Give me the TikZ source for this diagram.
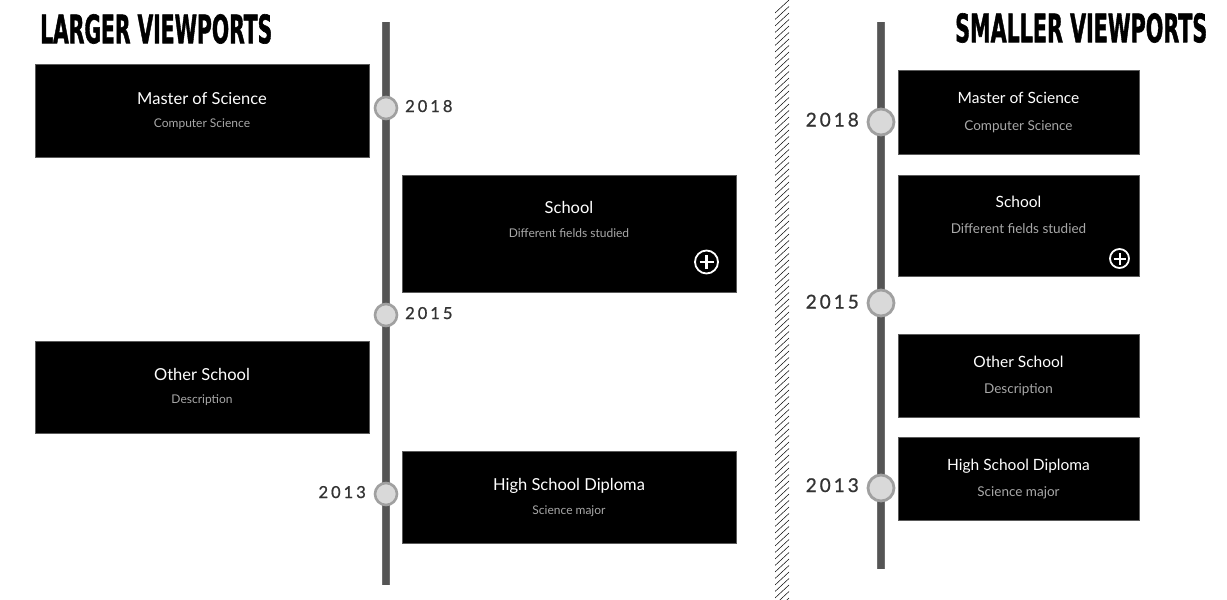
\documentclass[tikz,border=0pt]{standalone}
\usepackage{fontspec}
\setmainfont{Lato}
\newfontfamily\headfont[FakeBold=1.6]{DejaVu Sans Condensed}
\newfontfamily\yearfont[FakeBold=0.9]{Lato}
\definecolor{linegray}{HTML}{555555}
\definecolor{lineedge}{HTML}{6E6E6E}
\definecolor{dotfill}{HTML}{D9D9D9}
\definecolor{dotedge}{HTML}{A0A0A0}
\definecolor{subgray}{HTML}{A8A8A8}
\definecolor{yeargray}{HTML}{333333}
\definecolor{boxedge}{HTML}{5A5A5A}
\newcommand\yrs[4]{#1\kern3pt#2\kern3pt#3\kern3pt#4}
\tikzset{
  card/.style={rectangle, fill=black, draw=boxedge, line width=0.8pt, inner sep=0pt},
  cardL/.style={card, minimum width=334pt},
  cardR/.style={card, minimum width=241pt},
  ttlL/.style={anchor=base, text=white, font=\fontsize{16.5}{18}\selectfont, inner sep=0pt},
  subL/.style={anchor=base, text=subgray, font=\fontsize{12}{14}\selectfont, inner sep=0pt},
  ttlR/.style={anchor=base, text=white, font=\fontsize{15.5}{18}\selectfont, inner sep=0pt},
  subR/.style={anchor=base, text=subgray, font=\fontsize{13.5}{16}\selectfont, inner sep=0pt},
  dotL/.style={circle, fill=dotfill, draw=dotedge, line width=2.6pt, minimum size=22pt, inner sep=0pt},
  dotR/.style={circle, fill=dotfill, draw=dotedge, line width=2.8pt, minimum size=26pt, inner sep=0pt},
  yearL/.style={text=yeargray, font=\yearfont\fontsize{16.5}{18}\selectfont, inner sep=0pt},
  yearR/.style={text=yeargray, font=\yearfont\fontsize{19}{21}\selectfont, inner sep=0pt},
  spine/.style={draw=lineedge, line width=8pt},
  spinein/.style={draw=linegray, line width=6.5pt},
  plusring/.style={circle, draw=white, line width=1.8pt, inner sep=0pt},
  plusbar/.style={draw=white, line width=2.4pt},
}
\begin{document}
\begin{tikzpicture}[x=1pt,y=-1pt]
\useasboundingbox (0,0) rectangle (1227,600);
\fill[white] (0,0) rectangle (1227,600);

% headings
\node[anchor=north west, inner sep=0pt] (hL) at (40,14) {\resizebox{232pt}{29pt}{\headfont\bfseries LARGER VIEWPORTS}};
\node[anchor=north west, inner sep=0pt] (hR) at (955,13) {\resizebox{252pt}{29pt}{\headfont\bfseries SMALLER VIEWPORTS}};

% hatched divider
\begin{scope}
\clip (775,0) rectangle (789,600);
\foreach \i in {0,...,95} {
  \draw[black, line width=0.5pt] (775,6.5*\i+13) -- (789,6.5*\i);
}
\end{scope}

% ---------- left timeline ----------
\coordinate (lt) at (386,22);
\coordinate (lb) at (386,585);
\draw[spine] (lt) -- (lb);
\draw[spinein] (lt) -- (lb);

\node[cardL, minimum height=93pt] (b1) at (202,110.5) {};
\node[ttlL] at ([yshift=-41pt]b1.north) {Master of Science};
\node[subL] at ([yshift=-64pt]b1.north) {Computer Science};

\node[cardL, minimum height=117pt] (b2) at (569,233.5) {};
\node[ttlL] at ([yshift=-39pt]b2.north) {School};
\node[subL] at ([yshift=-63pt]b2.north) {Different fields studied};
\node[plusring, minimum size=23pt] (p1) at (706.5,262) {};
\draw[plusbar] ([xshift=-7pt]p1.center) -- ([xshift=7pt]p1.center);
\draw[plusbar] ([yshift=-7pt]p1.center) -- ([yshift=7pt]p1.center);

\node[cardL, minimum height=92pt] (b3) at (202,387) {};
\node[ttlL] at ([yshift=-40pt]b3.north) {Other School};
\node[subL] at ([yshift=-63pt]b3.north) {Description};

\node[cardL, minimum height=92pt] (b4) at (569,497) {};
\node[ttlL] at ([yshift=-40pt]b4.north) {High School Diploma};
\node[subL] at ([yshift=-64pt]b4.north) {Science major};

\node[dotL] (d1) at (386,108) {};
\node[dotL] (d2) at (386,315) {};
\node[dotL] (d3) at (386,494) {};
\node[yearL, anchor=base west] (y1) at (405,112) {\yrs 2018};
\node[yearL, anchor=base west] (y2) at (405,319) {\yrs 2015};
\node[yearL, anchor=base east] (y3) at (366,498) {\yrs 2013};

% ---------- right timeline ----------
\coordinate (rt) at (881,22);
\coordinate (rb) at (881,569);
\draw[spine] (rt) -- (rb);
\draw[spinein] (rt) -- (rb);

\node[cardR, minimum height=84pt] (r1) at (1018.5,112) {};
\node[ttlR] at ([yshift=-33.5pt]r1.north) {Master of Science};
\node[subR] at ([yshift=-61pt]r1.north) {Computer Science};

\node[cardR, minimum height=101pt] (r2) at (1018.5,225.5) {};
\node[ttlR] at ([yshift=-32.5pt]r2.north) {School};
\node[subR] at ([yshift=-59pt]r2.north) {Different fields studied};
\node[plusring, minimum size=19pt] (p2) at (1119.5,258.5) {};
\draw[plusbar, line width=2pt] ([xshift=-6pt]p2.center) -- ([xshift=6pt]p2.center);
\draw[plusbar, line width=2pt] ([yshift=-6pt]p2.center) -- ([yshift=6pt]p2.center);

\node[cardR, minimum height=83pt] (r3) at (1018.5,375.5) {};
\node[ttlR] at ([yshift=-33.5pt]r3.north) {Other School};
\node[subR] at ([yshift=-60pt]r3.north) {Description};

\node[cardR, minimum height=83pt] (r4) at (1018.5,478.5) {};
\node[ttlR] at ([yshift=-33.5pt]r4.north) {High School Diploma};
\node[subR] at ([yshift=-60pt]r4.north) {Science major};

\node[dotR] (e1) at (881,122) {};
\node[dotR] (e2) at (881,303) {};
\node[dotR] (e3) at (881,488) {};
\node[yearR, anchor=base east] (z1) at (859,126.5) {\yrs 2018};
\node[yearR, anchor=base east] (z2) at (859,308.5) {\yrs 2015};
\node[yearR, anchor=base east] (z3) at (859,492) {\yrs 2013};
\end{tikzpicture}
\end{document}
